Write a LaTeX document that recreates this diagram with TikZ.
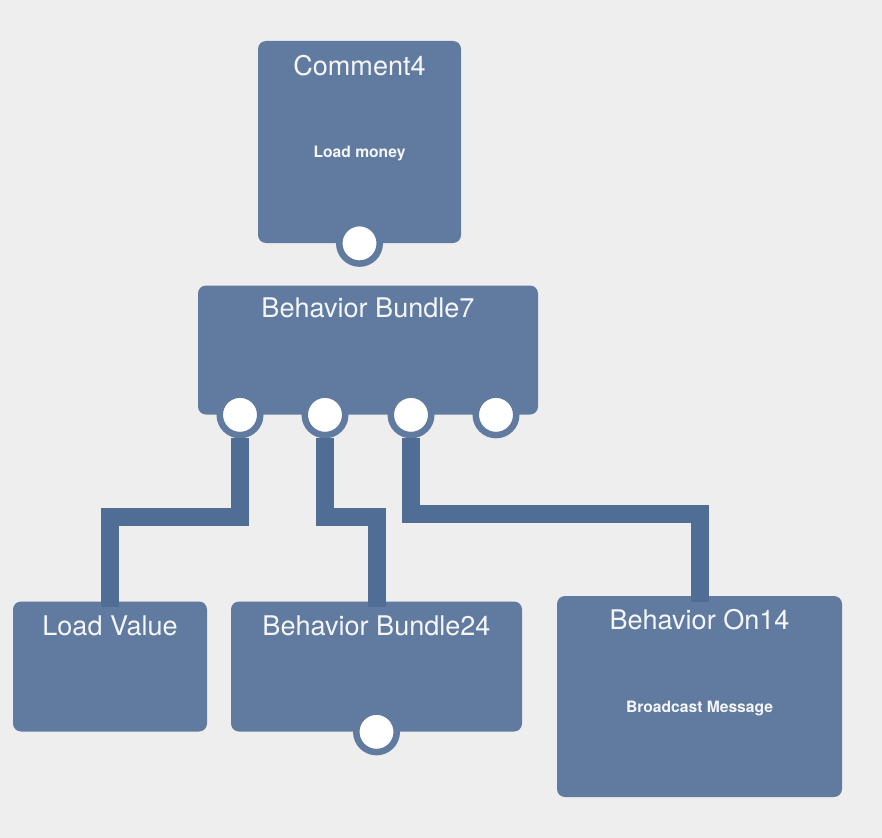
\documentclass[tikz,border=0pt]{standalone}
\usepackage{fontspec}
\setmainfont{TeX Gyre Heros}
\usepackage{tikz}
\usetikzlibrary{positioning}
\definecolor{boxBlue}{HTML}{607B9F}
\definecolor{wireBlue}{HTML}{506D96}
\definecolor{canvasGray}{HTML}{EEEEEE}
\definecolor{labelWhite}{HTML}{F4F6FA}
\def\px{0.02cm}

\begin{document}
\begin{tikzpicture}[
    x=0.02cm, y=-0.02cm,
    block/.style={fill=boxBlue, rounded corners=8*\px, inner sep=0pt},
    title/.style={text=labelWhite, font=\fontsize{15.4}{18}\selectfont, inner sep=0pt},
    sub/.style={text=labelWhite, font=\fontsize{8.9}{10}\selectfont\bfseries, inner sep=0pt, anchor=base},
    port/.style={circle, fill=white, draw=boxBlue, line width=6.5*\px,
      minimum size=40.5*\px, inner sep=0pt},
    wire/.style={draw=wireBlue, line width=18*\px, shorten >=-6*\px}]
    % --- canvas ---
    \fill[canvasGray] (0,0) rectangle (882,838);
    % --- blocks ---
    \node[block, minimum width=203*\px, minimum height=202*\px] (c4) at (359.5,142) {};
    \node[block, minimum width=340*\px, minimum height=129*\px] (bb7) at (368,350) {};
    \node[block, minimum width=194*\px, minimum height=130*\px] (lv) at (110,666.5) {};
    \node[block, minimum width=291*\px, minimum height=130*\px] (bb24) at (376.5,666.5) {};
    \node[block, minimum width=285*\px, minimum height=201*\px] (bo14) at (699.5,696.5) {};
    % --- titles and captions ---
    \node[title] (c4t) at ([yshift=-25*\px]c4.north) {Comment4};
    \node[title] (bb7t) at ([yshift=-23*\px]bb7.north) {Behavior Bundle7};
    \node[title] (lvt) at ([yshift=-25*\px]lv.north) {Load Value};
    \node[title] (bb24t) at ([yshift=-25*\px]bb24.north) {Behavior Bundle24};
    \node[title] (bo14t) at ([yshift=-24*\px]bo14.north) {Behavior On14};
    \node[sub] (c4s) at ([yshift=-15*\px]c4.center) {Load money};
    \node[sub] (bo14s) at ([yshift=-15.5*\px]bo14.center) {Broadcast Message};
    % --- ports ---
    \node[port] (c4p) at (c4.south) {};
    \foreach \i/\dx in {1/-128,2/-43,3/43,4/128}
      \node[port] (bp\i) at ([xshift=\dx*\px]bb7.south) {};
    \node[port] (bb24p) at (bb24.south) {};
    % --- wires ---
    \draw[wire] (bp1.south) -- (bp1.south |- 0,517) -| (lv.north);
    \draw[wire] (bp2.south) -- (bp2.south |- 0,517) -| (bb24.north);
    \draw[wire] (bp3.south) -- (bp3.south |- 0,514) -| (bo14.north);
\end{tikzpicture}
\end{document}
